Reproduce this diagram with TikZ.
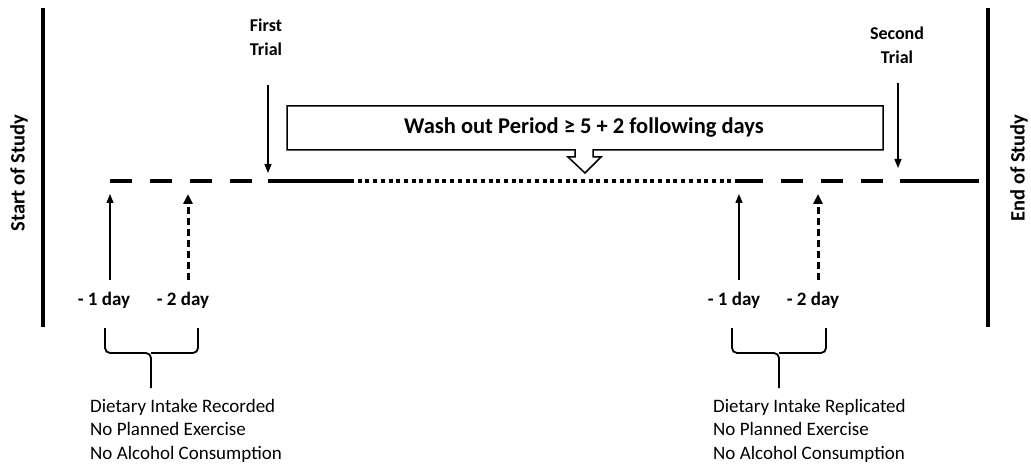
\documentclass[tikz,border=0pt]{standalone}
\usepackage{fontspec}
\setmainfont{Carlito}
\usetikzlibrary{arrows.meta}
\begin{document}
\begin{tikzpicture}[x=1pt,y=-1pt,
  bar/.style={line width=4pt},
  track/.style={line width=4pt,line cap=butt},
  trialarrow/.style={line width=1.4pt,-{Triangle[width=7pt,length=9pt]}},
  dayarrow/.style={line width=1.4pt,-{Triangle[width=7pt,length=9pt]}},
  dayarrowdash/.style={line width=3pt,dash pattern=on 7pt off 4pt,-{Triangle[width=9pt,length=10pt]}},
  brace/.style={line width=1.8pt,rounded corners=5pt},
  lbl/.style={font=\bfseries\fontsize{18}{24}\selectfont,inner sep=0pt},
  daylbl/.style={font=\bfseries\fontsize{19}{22}\selectfont,inner sep=0pt},
  note/.style={font=\fontsize{19}{23.5}\selectfont,inner sep=0pt,align=left,anchor=north west},
  side/.style={font=\bfseries\fontsize{20.5}{24}\selectfont,inner sep=0pt,rotate=90}]
\useasboundingbox (0,0) rectangle (1031,465);

% study boundaries
\coordinate (sTop) at (43,8);   \coordinate (sBot) at (43,327);
\coordinate (eTop) at (988,8);  \coordinate (eBot) at (988,327);
\draw[bar] (sTop) -- (sBot);
\draw[bar] (eTop) -- (eBot);
\node[side] (start) at (19,173) {Start of Study};
\node[side] (end) at (1019,168) {End of Study};

% timeline
\coordinate (t0) at (110,181);
\coordinate (t1) at (252,181);
\coordinate (t2) at (268,181);
\coordinate (t3) at (350,181);
\coordinate (t4) at (738,181);
\coordinate (t5) at (763,181);
\coordinate (t6) at (781,181);
\coordinate (t7) at (884,181);
\coordinate (t8) at (900,181);
\coordinate (t9) at (979,181);
\draw[track,dash pattern=on 22pt off 18pt] (t0) -- (t1);
\draw[track] (t2) -- (t3);
\draw[track,dash pattern=on 4pt off 3.7pt] (t3) -- (t4);
\draw[track] (t4) -- (t5);
\draw[track,dash pattern=on 22pt off 18pt] (t6) -- (t7);
\draw[track] (t8) -- (t9);

% trials
\node[lbl,align=left] (first) at (266,37) {First\\Trial};
\node[lbl,align=center] (second) at (897,45) {Second\\Trial};
\coordinate (f1) at (268,85);  \coordinate (f2) at (268,173);
\coordinate (g1) at (898,83);  \coordinate (g2) at (898,168);
\draw[trialarrow] (f1) -- (f2);
\draw[trialarrow] (g1) -- (g2);

% wash out callout
\draw[line width=1.5pt,fill=white,line join=miter]
  (287,106) -- (883,106) -- (883,150) -- (593,150) -- (593,157) -- (601,157)
  -- (585,173) -- (568,157) -- (575,157) -- (575,150) -- (287,150) -- cycle;
\node[font=\bfseries\fontsize{22.5}{26}\selectfont,inner sep=0pt] (wash) at (584,128)
  {Wash out Period ≥ 5 + 2 following days};

% days before the first trial
\coordinate (a1b) at (110,280); \coordinate (a1t) at (110,194);
\coordinate (a2b) at (188,280); \coordinate (a2t) at (188,194);
\draw[dayarrow] (a1b) -- (a1t);
\draw[dayarrowdash] (a2b) -- (a2t);
\node[daylbl] (d1) at (104,300) {- 1 day};
\node[daylbl] (d2) at (183,300) {- 2 day};
\draw[brace] (105,328) -- (105,353) -- (151,353) -- (151,388);
\draw[brace] (198,328) -- (198,353) -- (151,353);
\node[note] (n1) at (90,399) {Dietary Intake Recorded\\No Planned Exercise\\No Alcohol Consumption};

% days before the second trial
\coordinate (b1b) at (739,280); \coordinate (b1t) at (739,194);
\coordinate (b2b) at (818,280); \coordinate (b2t) at (818,194);
\draw[dayarrow] (b1b) -- (b1t);
\draw[dayarrowdash] (b2b) -- (b2t);
\node[daylbl] (e1) at (734,300) {- 1 day};
\node[daylbl] (e2) at (813,300) {- 2 day};
\draw[brace] (732,328) -- (732,353) -- (779,353) -- (779,388);
\draw[brace] (826,328) -- (826,353) -- (779,353);
\node[note] (n2) at (713,399) {Dietary Intake Replicated\\No Planned Exercise\\No Alcohol Consumption};
\end{tikzpicture}
\end{document}
